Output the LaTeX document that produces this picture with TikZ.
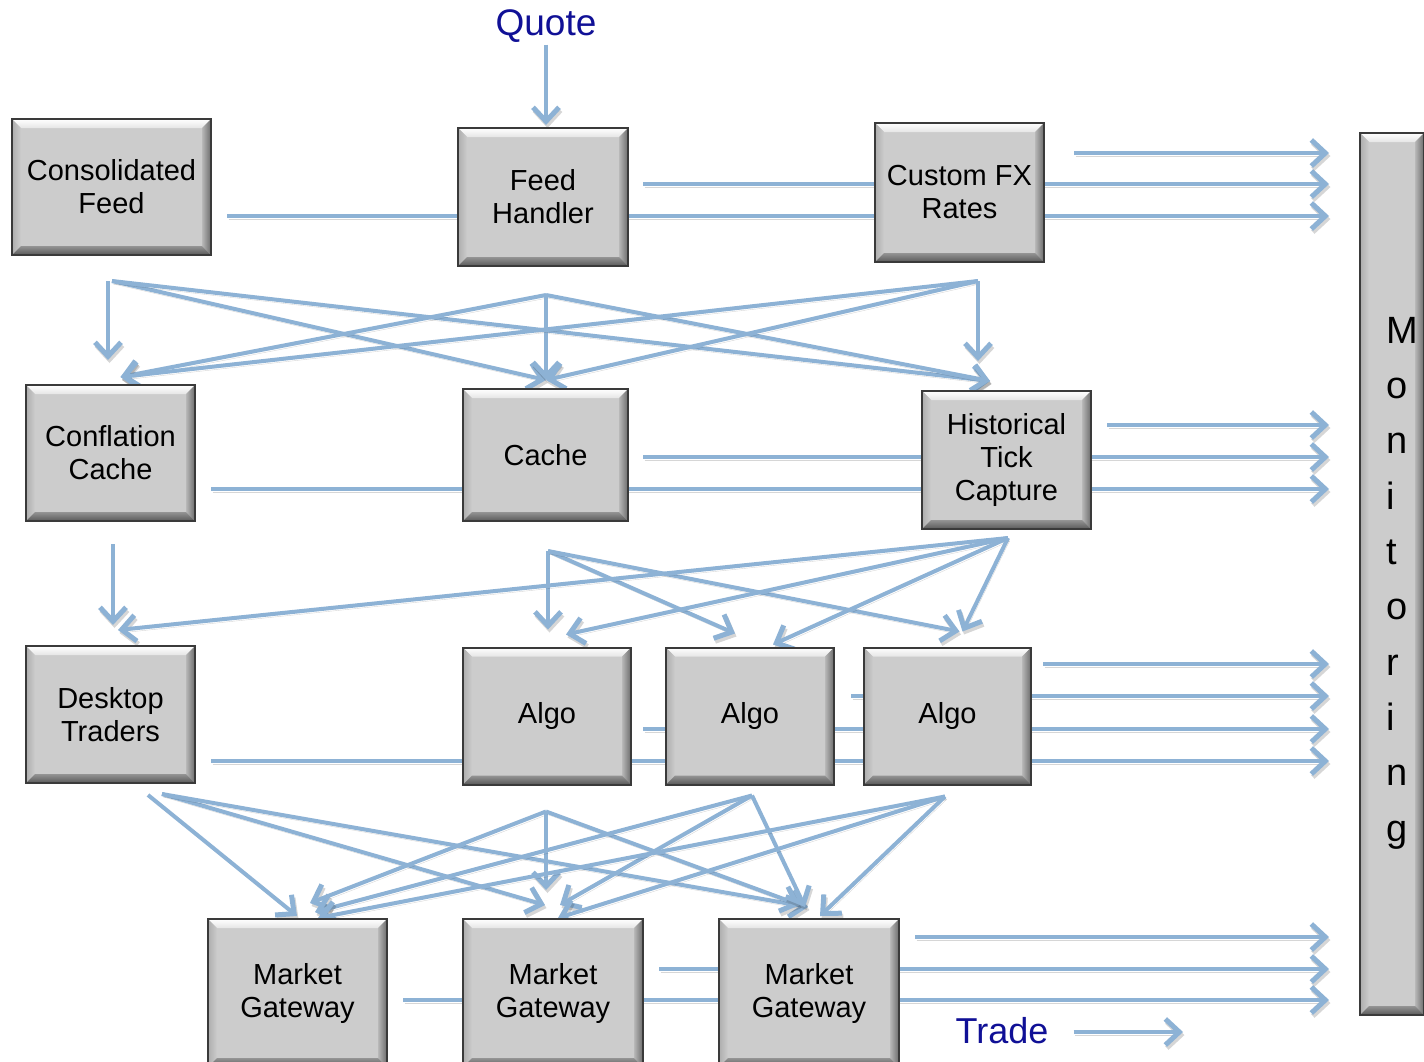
\documentclass[tikz,border=0pt]{standalone}
\usepackage{fontspec}
\setmainfont{Liberation Sans}
\usetikzlibrary{arrows.meta,calc,backgrounds}

\definecolor{flowc}{RGB}{141,178,213}
\definecolor{labelblue}{RGB}{16,16,150}
\definecolor{boxface}{RGB}{204,204,204}
\definecolor{boxedge}{RGB}{58,58,58}

\tikzset{
  bevelbox/.style={draw=boxedge, line width=2pt, fill=boxface, align=center,
    inner sep=0pt, font=\fontsize{29}{33}\selectfont,
    path picture={
      \path (path picture bounding box.north west) coordinate (p1)
            (path picture bounding box.north east) coordinate (p2)
            (path picture bounding box.south east) coordinate (p3)
            (path picture bounding box.south west) coordinate (p4);
      \path ([shift={(9pt,-9pt)}]p1) coordinate (q1)
            ([shift={(-9pt,-9pt)}]p2) coordinate (q2)
            ([shift={(-9pt,9pt)}]p3) coordinate (q3)
            ([shift={(9pt,9pt)}]p4) coordinate (q4);
      \shade[top color=white, bottom color=black!10] (p1) -- (p2) -- (q2) -- (q1) -- cycle;
      \shade[left color=black!32, right color=black!20] (p1) -- (q1) -- (q4) -- (p4) -- cycle;
      \shade[left color=black!28, right color=black!58] (p2) -- (p3) -- (q3) -- (q2) -- cycle;
      \shade[top color=black!42, bottom color=black!65] (q4) -- (q3) -- (p3) -- (p4) -- cycle;
    }},
  flow/.style={draw=flowc, line width=4pt,
    preaction={draw=black, draw opacity=0.16, transform canvas={xshift=1.5pt, yshift=-3pt}}},
  headed/.style={-{Straight Barb[length=14pt,width=26pt,line width=5pt]}},
  bluelabel/.style={text=labelblue, inner sep=2pt}
}

\begin{document}
\begin{tikzpicture}[x=1pt,y=-1pt]
\useasboundingbox (0,0) rectangle (1424,1061);

% processing stages
\node[bevelbox, minimum width=199, minimum height=136] (cf)  at (111.5,187)  {Consolidated\\Feed};
\node[bevelbox, minimum width=170, minimum height=138] (fh)  at (543,197)    {Feed\\Handler};
\node[bevelbox, minimum width=169, minimum height=139] (fx)  at (959.5,192.5) {Custom FX\\Rates};
\node[bevelbox, minimum width=169, minimum height=136] (cc)  at (110.5,453)  {Conflation\\Cache};
\node[bevelbox, minimum width=165, minimum height=132] (ca)  at (545.5,455)  {Cache};
\node[bevelbox, minimum width=169, minimum height=138] (htc) at (1006.5,460) {Historical\\Tick\\Capture};
\node[bevelbox, minimum width=169, minimum height=137] (dt)  at (110.5,714.5) {Desktop\\Traders};
\node[bevelbox, minimum width=168, minimum height=137] (a1)  at (547,716)  {Algo};
\node[bevelbox, minimum width=168, minimum height=137] (a2)  at (750,716)  {Algo};
\node[bevelbox, minimum width=167, minimum height=137] (a3)  at (947.5,716) {Algo};
\node[bevelbox, minimum width=179, minimum height=148] (mg1) at (297.5,993)  {Market\\Gateway};
\node[bevelbox, minimum width=180, minimum height=148] (mg2) at (553,993)    {Market\\Gateway};
\node[bevelbox, minimum width=180, minimum height=148] (mg3) at (809,993)    {Market\\Gateway};
\node[bevelbox, minimum width=64, minimum height=882] (mon) at (1392,574) {};
\node[font=\fontsize{38}{55.3}\selectfont, align=left, inner sep=0pt, anchor=north west]
  (montext) at (1386,317) {M\\o\\n\\i\\t\\o\\r\\i\\n\\g};

% input and output labels
\node[bluelabel, font=\fontsize{37}{40}\selectfont] (quote) at (546,26) {Quote};
\node[bluelabel, font=\fontsize{36}{40}\selectfont] (trade) at (1002,1031) {Trade};
\coordinate (tradeout) at (1183,1032);

\begin{scope}[on background layer]
\fill[white] (0,0) rectangle (1424,1061);

% quote in, trade out
\draw[flow,headed] (quote.south) -- ($(quote.south |- fh.north)+(0,-2)$);
\draw[flow,headed] ($(trade.east)+(23,1)$) -- (tradeout);

% feeds to monitoring
\draw[flow,headed] ($(cf.east)+(15,29)$)    -- ($(mon.west |- cf.east)+(-30,29)$);
\draw[flow,headed] ($(fh.east)+(14,-13)$)   -- ($(mon.west |- fh.east)+(-30,-13)$);
\draw[flow,headed] ($(fx.east)+(29,-39.5)$) -- ($(mon.west |- fx.east)+(-30,-39.5)$);
\draw[flow,headed] ($(cc.east)+(15,36)$)    -- ($(mon.west |- cc.east)+(-30,36)$);
\draw[flow,headed] ($(ca.east)+(14,2)$)     -- ($(mon.west |- ca.east)+(-30,2)$);
\draw[flow,headed] ($(htc.east)+(15,-35)$)  -- ($(mon.west |- htc.east)+(-30,-35)$);
\draw[flow,headed] ($(dt.east)+(15,46.5)$)  -- ($(mon.west |- dt.east)+(-30,46.5)$);
\draw[flow,headed] ($(a1.east)+(11,13)$)    -- ($(mon.west |- a1.east)+(-30,13)$);
\draw[flow,headed] ($(a2.east)+(16,-20)$)   -- ($(mon.west |- a2.east)+(-30,-20)$);
\draw[flow,headed] ($(a3.east)+(11,-52)$)   -- ($(mon.west |- a3.east)+(-30,-52)$);
\draw[flow,headed] ($(mg1.east)+(15,7)$)    -- ($(mon.west |- mg1.east)+(-30,7)$);
\draw[flow,headed] ($(mg2.east)+(15,-24)$)  -- ($(mon.west |- mg2.east)+(-30,-24)$);
\draw[flow,headed] ($(mg3.east)+(15,-56)$)  -- ($(mon.west |- mg3.east)+(-30,-56)$);

% first tier fan-out
\coordinate (cfo) at ($(cf.south)+(0.5,25)$);
\coordinate (fho) at ($(fh.south)+(3,28)$);
\coordinate (fxo) at ($(fx.south)+(18.5,18)$);
\draw[flow,headed] ($(cf.south)+(-3.5,25)$) -- ($(cc.north)+(-2.5,-24)$);
\draw[flow,headed] (cfo) -- ($(ca.north)+(0.5,-8)$);
\draw[flow,headed] (cfo) -- ($(htc.north)+(-16.5,-9)$);
\draw[flow,headed] (fho) -- ($(cc.north)+(10,-7)$);
\draw[flow,headed] (fho) -- ($(ca.north)+(0.5,-8)$);
\draw[flow,headed] (fho) -- ($(htc.north)+(-16.5,-9)$);
\draw[flow,headed] (fxo) -- ($(cc.north)+(10,-7)$);
\draw[flow,headed] (fxo) -- ($(ca.north)+(0.5,-8)$);
\draw[flow,headed] (fxo) -- ($(htc.north)+(-28.5,-29)$);

% second tier fan-out
\coordinate (cao)  at ($(ca.south)+(2.5,29)$);
\coordinate (htco) at ($(htc.south)+(1.5,8)$);
\draw[flow,headed] ($(cc.south)+(2.5,22)$) -- ($(dt.north)+(2.5,-20)$);
\draw[flow,headed] (cao)  -- ($(a1.north)+(1,-17)$);
\draw[flow,headed] (cao)  -- ($(a2.north)+(-15,-13)$);
\draw[flow,headed] (cao)  -- ($(a3.north)+(12,-15)$);
\draw[flow,headed] (htco) -- ($(dt.north)+(7.5,-15)$);
\draw[flow,headed] (htco) -- ($(a1.north)+(19,-12)$);
\draw[flow,headed] (htco) -- ($(a2.north)+(23,-2)$);
\draw[flow,headed] (htco) -- ($(a3.north)+(15,-15)$);

% third tier fan-out
\coordinate (dto) at ($(dt.south)+(37.5,11)$);
\coordinate (dtp) at ($(dt.south)+(51.5,10)$);
\coordinate (a1o) at ($(a1.south)+(-1,26)$);
\coordinate (a2o) at ($(a2.south)+(2,10)$);
\coordinate (a3o) at ($(a3.south)+(-2.5,11)$);
\draw[flow,headed] (dto) -- ($(mg1.north)+(-0.5,-2)$);
\draw[flow,headed] (dtp) -- ($(mg2.north)+(-8,-13)$);
\draw[flow,headed] (dtp) -- ($(mg3.north)+(-1,-11)$);
\draw[flow,headed] (a1o) -- ($(mg1.north)+(12.5,-15)$);
\draw[flow,headed] (a1o) -- ($(mg2.north)+(-7,-28)$);
\draw[flow,headed] (a1o) -- ($(mg3.north)+(-9,-13)$);
\draw[flow,headed] (a2o) -- ($(mg1.north)+(17.5,-6)$);
\draw[flow,headed] (a2o) -- ($(mg2.north)+(7,-13)$);
\draw[flow,headed] (a2o) -- ($(mg3.north)+(-4,-11)$);
\draw[flow,headed] (a3o) -- ($(mg1.north)+(20.5,0)$);
\draw[flow,headed] (a3o) -- ($(mg2.north)+(5,0)$);
\draw[flow,headed] (a3o) -- ($(mg3.north)+(11,-2)$);
\end{scope}
\end{tikzpicture}
\end{document}
